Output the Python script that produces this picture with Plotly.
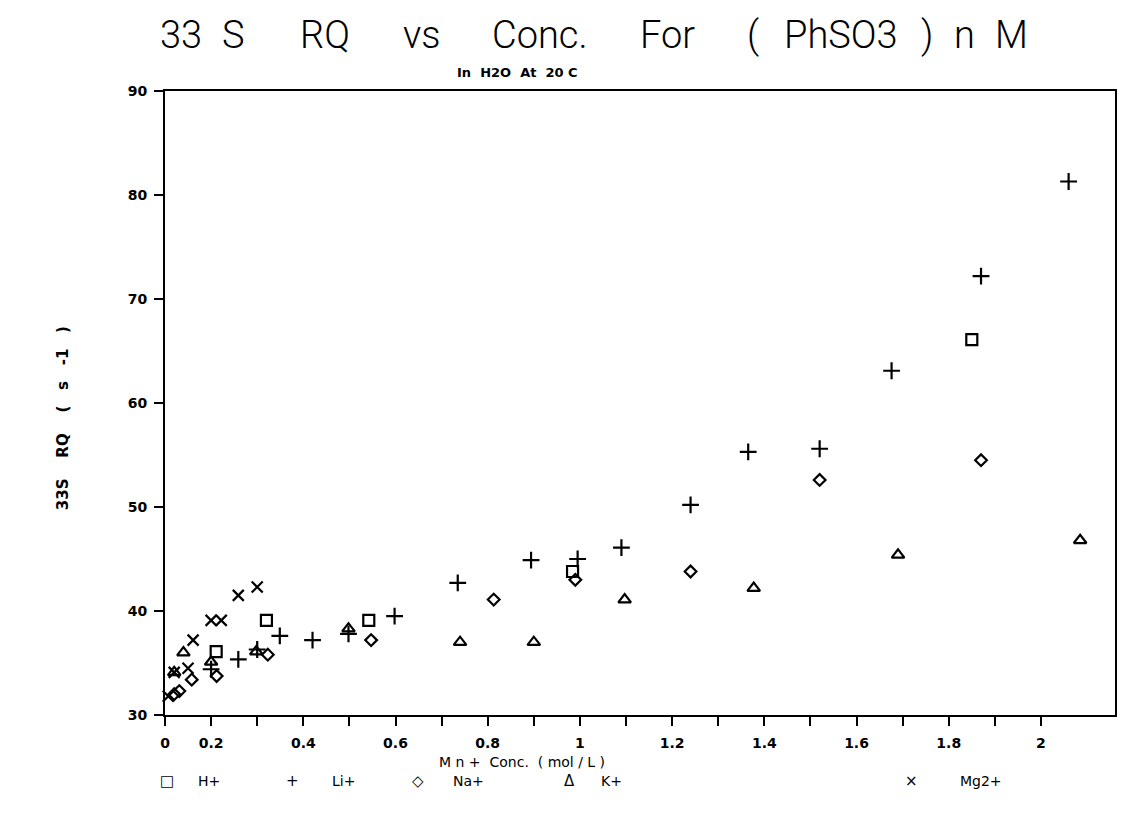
import plotly.graph_objects as go

# ---- data ----
h_x = [0.211, 0.32, 0.542, 0.984, 1.85]
h_y = [36.1, 39.1, 39.1, 43.8, 66.1]

li_x = [0.2, 0.259, 0.3, 0.349, 0.42, 0.498, 0.598, 0.735, 0.894, 0.995, 1.09, 1.24, 1.365, 1.52, 1.676, 1.87, 2.06]
li_y = [34.4, 35.35, 36.3, 37.6, 37.2, 37.8, 39.5, 42.7, 44.9, 45.0, 46.1, 50.2, 55.3, 55.6, 63.1, 72.2, 81.3]

na_x = [0.12, 0.131, 0.158, 0.212, 0.323, 0.547, 0.813, 0.99, 1.24, 1.52, 1.87]
na_y = [32.0, 32.3, 33.4, 33.75, 35.8, 37.2, 41.1, 43.0, 43.8, 52.6, 54.5]

k_x = [0.12, 0.14, 0.2, 0.298, 0.498, 0.74, 0.90, 1.097, 1.377, 1.69, 2.085]
k_y = [34.1, 36.0, 35.1, 36.1, 38.3, 37.0, 37.0, 41.1, 42.2, 45.4, 46.8]

mg_x = [0.107, 0.12, 0.15, 0.161, 0.2, 0.222, 0.259, 0.30]
mg_y = [31.8, 34.1, 34.5, 37.2, 39.1, 39.1, 41.5, 42.3]

x_tick_vals = [0.1, 0.2, 0.3, 0.4, 0.5, 0.6, 0.7, 0.8, 0.9, 1.0, 1.1, 1.2, 1.3, 1.4, 1.5, 1.6, 1.7, 1.8, 1.9, 2.0]
x_tick_text = ["0", "0.2", "", "0.4", "", "0.6", "", "0.8", "", "1", "", "1.2", "", "1.4", "", "1.6", "", "1.8", "", "2"]
y_tick_vals = [30, 40, 50, 60, 70, 80, 90]

title_tokens = ["33", "S", "RQ", "vs", "Conc.", "For", "(", "PhSO3", ")", "n", "M"]
legend_names = ["H+", "Li+", "Na+", "K+", "Mg2+"]

series = [
    (legend_names[0], h_x, h_y, "square-open", 11),
    (legend_names[1], li_x, li_y, "cross-thin-open", 12),
    (legend_names[2], na_x, na_y, "diamond-open", 9),
    (legend_names[3], k_x, k_y, "triangle-up-open", 11),
    (legend_names[4], mg_x, mg_y, "x-thin-open", 11),
]

fig = go.Figure()
for name, xs, ys, sym, sz in series:
    fig.add_trace(go.Scatter(
        x=xs, y=ys, mode="markers", name=name, showlegend=False,
        marker=dict(symbol=sym, size=sz, color="black",
                    line=dict(color="black", width=2.2)),
        cliponaxis=False,
    ))

W, H = 1124, 823
L, R, T, B = 165, 1117, 91, 715
def px(x):
    return (x - L) / (R - L)
def py(y):
    return (B - y) / (B - T)

tick_font = dict(family="DejaVu Sans", size=14, color="black", weight="bold")
fig.update_layout(
    width=W, height=H,
    margin=dict(l=L, r=W - R, t=T, b=H - B, pad=0),
    paper_bgcolor="white", plot_bgcolor="white",
    xaxis=dict(range=[0.1, 0.1 + (R - L) / 462.0], tickmode="array",
               tickvals=x_tick_vals, ticktext=x_tick_text,
               ticks="outside", ticklen=9, tickwidth=2, tickcolor="black",
               showline=True, linecolor="black", linewidth=2, mirror=True,
               showgrid=False, zeroline=False, tickfont=tick_font,
               ticklabelstandoff=5),
    yaxis=dict(range=[30, 90], tickmode="array", tickvals=y_tick_vals,
               ticks="outside", ticklen=9, tickwidth=2, tickcolor="black",
               showline=True, linecolor="black", linewidth=2, mirror=True,
               showgrid=False, zeroline=False, tickfont=tick_font,
               ticklabelstandoff=4),
)

nb = "\u00a0"
title_centers = [181, 234, 325, 423, 541, 669, 754, 842, 929, 966, 1013]
for tok, cx in zip(title_tokens, title_centers):
    fig.add_annotation(text=tok, x=px(cx), y=py(35), xref="paper", yref="paper",
                       showarrow=False, xanchor="center", yanchor="middle",
                       font=dict(family="Roboto", size=38, color="black", weight=300))
fig.add_annotation(text="In" + nb * 2 + "H2O" + nb * 2 + "At" + nb * 2 + "20" + nb + "C",
                   x=px(518), y=py(72), xref="paper", yref="paper",
                   showarrow=False, xanchor="center", yanchor="middle",
                   font=dict(family="DejaVu Sans", size=13, color="black", weight="bold"))
fig.add_annotation(text="33S" + nb * 4 + "RQ" + nb * 4 + "(" + nb * 3 + "s" + nb * 3 + "-1" + nb * 3 + ")",
                   x=px(63), y=py(418), xref="paper", yref="paper", textangle=-90,
                   showarrow=False, xanchor="center", yanchor="middle",
                   font=dict(family="DejaVu Sans", size=15, color="black", weight="bold"))
fig.add_annotation(text="M" + nb + "n" + nb + "+" + nb * 2 + "Conc." + nb * 2 + "(" + nb + "mol" + nb + "/" + nb + "L" + nb + ")",
                   x=px(523), y=py(762), xref="paper", yref="paper",
                   showarrow=False, xanchor="center", yanchor="middle",
                   font=dict(family="DejaVu Sans", size=14, color="black"))

legend_syms = ["\u25a1", "+", "\u25c7", "\u0394", "\u00d7"]
legend_sym_x = [167, 293, 419, 570, 913]
legend_txt_x = [196, 330, 452, 600, 960]
for sym, sx, lab, lx in zip(legend_syms, legend_sym_x, legend_names, legend_txt_x):
    fig.add_annotation(text=sym, x=px(sx), y=py(781), xref="paper", yref="paper",
                       showarrow=False, xanchor="center", yanchor="middle",
                       font=dict(family="DejaVu Sans", size=15, color="black"))
    fig.add_annotation(text=lab, x=px(lx), y=py(781), xref="paper", yref="paper",
                       showarrow=False, xanchor="left", yanchor="middle",
                       font=dict(family="DejaVu Sans", size=14, color="black"))

fig.write_html("out.html")
